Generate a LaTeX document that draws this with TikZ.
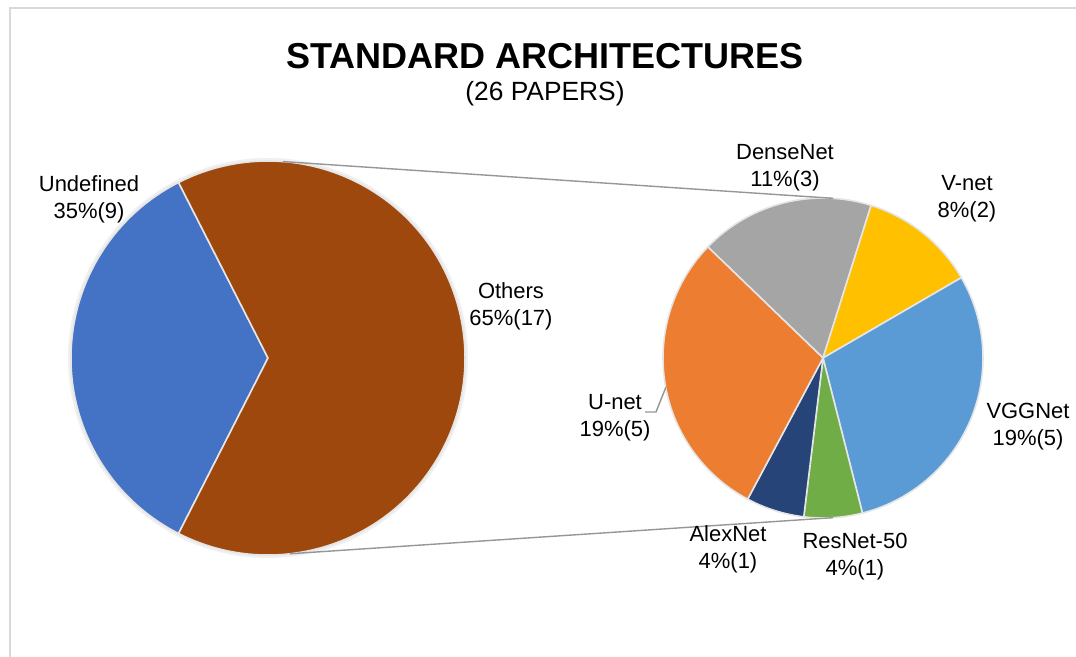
\documentclass[tikz,border=0pt]{standalone}
\usepackage{fontspec}
\setmainfont{Liberation Sans}
\usetikzlibrary{positioning}
\definecolor{cundef}{RGB}{68,114,196}
\definecolor{cothers}{RGB}{158,72,14}
\definecolor{cdense}{RGB}{165,165,165}
\definecolor{cvnet}{RGB}{255,192,0}
\definecolor{cvgg}{RGB}{91,155,213}
\definecolor{cresnet}{RGB}{112,173,71}
\definecolor{calex}{RGB}{38,68,120}
\definecolor{cunet}{RGB}{237,125,49}
\definecolor{cframe}{RGB}{217,217,217}
\definecolor{cline}{RGB}{150,150,150}
\tikzset{
  slice/.style={draw=white!80!gray, line width=0.9pt, line join=round},
  lbl/.style={align=center, inner sep=1pt,
    font=\fontsize{12.5}{15.4}\selectfont},
  conn/.style={draw=cline, line width=0.8pt}
}
\begin{document}
\begin{tikzpicture}
  \useasboundingbox (0,0) rectangle (21.52,-13.14);
  % frame
  \draw[cframe, line width=1pt] (0.2,-13.14) -- (0.2,-0.16) -- (21.52,-0.16);
  % titles
  \node[font=\fontsize{20.5}{24}\selectfont\bfseries] (title) at (10.9,-1.12) {STANDARD ARCHITECTURES};
  \node[font=\fontsize{15}{18}\selectfont] (subtitle) at (10.9,-1.88) {(26 PAPERS)};
  % main pie
  \coordinate (lc) at (5.36,-7.16);
  \fill[black!6] (lc) circle (4.0);
  \draw[slice, fill=cundef] (lc) -- ([shift={(117:3.94)}]lc) arc (117:243:3.94) -- cycle;
  \draw[slice, fill=cothers] (lc) -- ([shift={(-117:3.94)}]lc) arc (-117:117:3.94) -- cycle;
  % secondary pie (clockwise from 136.03)
  \coordinate (rc) at (16.46,-7.16);
  \foreach \a/\b/\col in {72.5/136.03/cdense, 30.15/72.5/cvnet, -75.73/30.15/cvgg,
      -96.9/-75.73/cresnet, -118.1/-96.9/calex, -223.97/-118.1/cunet}
    \draw[slice, fill=\col] (rc) -- ([shift={(\a:3.2)}]rc) arc (\a:\b:3.2) -- cycle;
  % connectors between the pies
  \coordinate (ltop) at ([shift={(85.6:3.94)}]lc);
  \coordinate (lbot) at ([shift={(-83.6:3.94)}]lc);
  \coordinate (rtop) at ([shift={(86.4:3.2)}]rc);
  \coordinate (rbot) at ([shift={(-86.4:3.2)}]rc);
  \draw[conn] (ltop) -- (rtop);
  \draw[conn] (lbot) -- (rbot);
  % labels
  \node[lbl] (undef) at (1.78,-3.98) {Undefined\\35\%(9)};
  \node[lbl] (others) at (10.22,-6.12) {Others\\65\%(17)};
  \node[lbl] (dense) at (15.7,-3.36) {DenseNet\\11\%(3)};
  \node[lbl] (vnet) at (19.34,-3.98) {V-net\\8\%(2)};
  \node[lbl] (vgg) at (20.56,-8.54) {VGGNet\\19\%(5)};
  \node[lbl] (resnet) at (17.1,-11.14) {ResNet-50\\4\%(1)};
  \node[lbl] (alex) at (14.56,-10.98) {AlexNet\\4\%(1)};
  \node[lbl] (unet) at (12.3,-8.36) {U-net\\19\%(5)};
  % leader for U-net
  \coordinate (unetend) at (13.32,-7.74);
  \draw[conn] (12.9,-8.24) -- (13.12,-8.24) -- (unetend);
\end{tikzpicture}
\end{document}
